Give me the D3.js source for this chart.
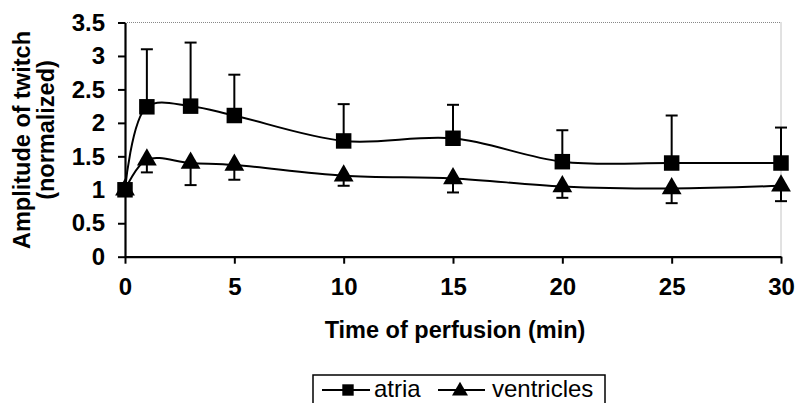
<!DOCTYPE html>
<html>
<head>
<meta charset="utf-8">
<script src="https://cdn.jsdelivr.net/npm/d3@7"></script>
<style>
  body { margin: 0; background: #fff; }
  svg { display: block; font-family: "Liberation Sans", Arial, sans-serif; }
</style>
</head>
<body>
<div id="chart"></div>
<script>
// time points (min)
const times = [0, 1, 3, 5, 10, 15, 20, 25, 30];
// atria: mean and upper error limit
const atria = [1.0, 2.24, 2.25, 2.11, 1.73, 1.77, 1.42, 1.40, 1.40];
const atriaUpper = [1.0, 3.10, 3.20, 2.72, 2.28, 2.27, 1.89, 2.11, 1.93];
// ventricles: mean and lower error limit
const ventricles = [1.0, 1.45, 1.40, 1.37, 1.21, 1.17, 1.05, 1.02, 1.06];
const ventriclesLower = [1.0, 1.26, 1.07, 1.15, 1.06, 0.96, 0.88, 0.80, 0.83];
const xTicks = [0, 5, 10, 15, 20, 25, 30];
const yTicks = [0, 0.5, 1, 1.5, 2, 2.5, 3, 3.5];

const W = 795, H = 403;
const svg = d3.select("#chart").append("svg")
    .attr("width", W).attr("height", H);

const x = d3.scaleLinear().domain([0, 30]).range([125, 781]);
const y = d3.scaleLinear().domain([0, 3.5]).range([256.7, 22.5]);

// dotted top / right border
svg.append("path")
    .attr("d", `M${x(0)},${y(3.5)}H${x(30)}V${y(0)}`)
    .attr("fill", "none")
    .attr("stroke", "#888")
    .attr("stroke-width", 1)
    .attr("stroke-dasharray", "1,1");

// axes
const xAxis = svg.append("g")
    .attr("transform", `translate(0,${y(0)})`)
    .call(d3.axisBottom(x).tickValues(xTicks).tickSize(7).tickSizeOuter(0).tickPadding(14));
const yAxis = svg.append("g")
    .attr("transform", `translate(${x(0)},0)`)
    .call(d3.axisLeft(y).tickValues(yTicks).tickSize(7).tickSizeOuter(0).tickPadding(13)
        .tickFormat(d => d));

[xAxis, yAxis].forEach(g => {
    g.select(".domain").attr("stroke", "#000").attr("stroke-width", 2.2);
    g.selectAll(".tick line").attr("stroke", "#000").attr("stroke-width", 2);
    g.selectAll(".tick text")
        .attr("fill", "#000")
        .style("font-size", "24px")
        .style("font-weight", "bold")
        .style("font-family", "'Liberation Sans', Arial, sans-serif");
});

// axis titles
svg.append("text")
    .attr("x", 455).attr("y", 338)
    .attr("text-anchor", "middle")
    .style("font-size", "23.5px").style("font-weight", "bold")
    .text("Time of perfusion (min)");

svg.append("text")
    .attr("transform", "translate(30,140) rotate(-90)")
    .attr("text-anchor", "middle")
    .style("font-size", "23.5px").style("font-weight", "bold")
    .text("Amplitude of twitch");
svg.append("text")
    .attr("transform", "translate(54,130) rotate(-90)")
    .attr("text-anchor", "middle")
    .style("font-size", "23.5px").style("font-weight", "bold")
    .text("(normalized)");

const line = d3.line()
    .x(d => x(d[0]))
    .y(d => y(d[1]))
    .curve(d3.curveCatmullRom.alpha(0.5));

const atriaPts = times.map((t, i) => [t, atria[i]]);
const ventPts = times.map((t, i) => [t, ventricles[i]]);

// error bars
function errorBars(vals, ends) {
    const g = svg.append("g").attr("stroke", "#000").attr("stroke-width", 2);
    times.forEach((t, i) => {
        if (ends[i] === vals[i]) return;
        g.append("line")
            .attr("x1", x(t)).attr("x2", x(t))
            .attr("y1", y(vals[i])).attr("y2", y(ends[i]));
        g.append("line")
            .attr("x1", x(t) - 6).attr("x2", x(t) + 6)
            .attr("y1", y(ends[i])).attr("y2", y(ends[i]));
    });
}
errorBars(atria, atriaUpper);
errorBars(ventricles, ventriclesLower);

svg.append("path").datum(atriaPts)
    .attr("d", line).attr("fill", "none")
    .attr("stroke", "#000").attr("stroke-width", 2);
svg.append("path").datum(ventPts)
    .attr("d", line).attr("fill", "none")
    .attr("stroke", "#000").attr("stroke-width", 2);

const square = d3.symbol().type(d3.symbolSquare).size(240);
const triangle = d3.symbol().type(d3.symbolTriangle).size(170);

svg.selectAll(".vmark").data(ventPts).enter().append("path")
    .attr("class", "vmark")
    .attr("d", triangle)
    .attr("transform", d => `translate(${x(d[0])},${y(d[1])})`)
    .attr("fill", "#000");
svg.selectAll(".amark").data(atriaPts).enter().append("path")
    .attr("class", "amark")
    .attr("d", square)
    .attr("transform", d => `translate(${x(d[0])},${y(d[1])})`)
    .attr("fill", "#000");

// legend
const lg = svg.append("g");
lg.append("rect")
    .attr("x", 313).attr("y", 375)
    .attr("width", 292).attr("height", 40)
    .attr("fill", "#fff").attr("stroke", "#000").attr("stroke-width", 1.5);
lg.append("line").attr("x1", 322).attr("x2", 370).attr("y1", 390).attr("y2", 390)
    .attr("stroke", "#000").attr("stroke-width", 2);
lg.append("path").attr("d", d3.symbol().type(d3.symbolSquare).size(130))
    .attr("transform", "translate(348,390)");
lg.append("text").attr("x", 374).attr("y", 397)
    .style("font-size", "24px").text("atria");
lg.append("line").attr("x1", 438).attr("x2", 485).attr("y1", 390).attr("y2", 390)
    .attr("stroke", "#000").attr("stroke-width", 2);
lg.append("path").attr("d", d3.symbol().type(d3.symbolTriangle).size(110))
    .attr("transform", "translate(460,391)");
lg.append("text").attr("x", 492).attr("y", 397)
    .style("font-size", "24px").text("ventricles");
</script>
</body>
</html>
